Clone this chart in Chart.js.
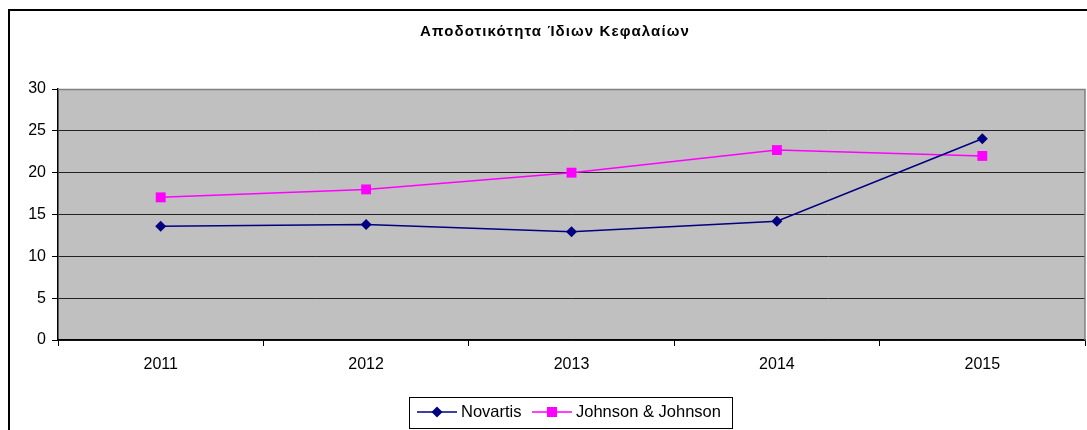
<!DOCTYPE html>
<html>
<head>
<meta charset="utf-8">
<script src="https://cdn.jsdelivr.net/npm/chart.js@4"></script>
<style>
  html, body { margin: 0; padding: 0; background: #fff; }
  #wrap { width: 1087px; height: 430px; }
</style>
</head>
<body>
<div id="wrap"><canvas id="chart" width="1087" height="430"></canvas></div>
<script>
var years = ["2011", "2012", "2013", "2014", "2015"]
var novartis = [13.6, 13.8, 12.95, 14.2, 24.05]
var johnson = [17.05, 18.0, 20.0, 22.7, 22.0]
var yTicks = [0, 5, 10, 15, 20, 25, 30]

var titleText = "Αποδοτικότητα Ίδιων Κεφαλαίων"
var fontName = "'Liberation Sans', Arial, sans-serif"

// frame, plot background, title and legend box
var decor = {
  id: 'decor',
  beforeDraw: function(chart) {
    var ctx = chart.ctx
    var a = chart.chartArea
    ctx.save()
    ctx.fillStyle = '#fff'
    ctx.fillRect(0, 0, chart.width, chart.height)
    ctx.fillStyle = '#c0c0c0'
    ctx.fillRect(a.left, a.top, a.right - a.left, a.bottom - a.top)
    ctx.restore()
  },
  afterDraw: function(chart) {
    var ctx = chart.ctx
    var a = chart.chartArea
    ctx.save()
    // plot border top/right
    ctx.strokeStyle = '#808080'
    ctx.lineWidth = 1.5
    ctx.beginPath()
    ctx.moveTo(a.left, a.top + 0.5)
    ctx.lineTo(a.right, a.top + 0.5)
    ctx.lineTo(a.right, a.bottom)
    ctx.stroke()
    // outer frame
    ctx.strokeStyle = '#000'
    ctx.lineWidth = 2
    ctx.beginPath()
    ctx.moveTo(9, chart.height)
    ctx.lineTo(9, 10)
    ctx.lineTo(chart.width, 10)
    ctx.stroke()
    // title
    ctx.fillStyle = '#000'
    ctx.font = "bold 15px " + fontName
    ctx.letterSpacing = '1.1px'
    ctx.textAlign = 'center'
    ctx.textBaseline = 'middle'
    ctx.fillText(titleText, 555, 32)
    ctx.letterSpacing = '0px'
    // legend
    ctx.strokeStyle = '#000'
    ctx.lineWidth = 1
    ctx.strokeRect(409.5, 397.5, 323, 31)
    var items = [
      {label: 'Novartis', ds: chart.data.datasets[0], x: 417},
      {label: 'Johnson & Johnson', ds: chart.data.datasets[1], x: 532}
    ]
    items.forEach(function(it) {
      var cy = 412
      ctx.strokeStyle = it.ds.borderColor
      ctx.lineWidth = 1.5
      ctx.beginPath()
      ctx.moveTo(it.x, cy)
      ctx.lineTo(it.x + 40, cy)
      ctx.stroke()
      ctx.fillStyle = it.ds.pointBackgroundColor
      if (it.ds.pointStyle === 'rect') {
        ctx.fillRect(it.x + 15, cy - 5, 10, 10)
      } else {
        ctx.beginPath()
        ctx.moveTo(it.x + 20, cy - 5.5)
        ctx.lineTo(it.x + 25.5, cy)
        ctx.lineTo(it.x + 20, cy + 5.5)
        ctx.lineTo(it.x + 14.5, cy)
        ctx.closePath()
        ctx.fill()
      }
      ctx.fillStyle = '#000'
      ctx.font = "16.5px " + fontName
      ctx.textAlign = 'left'
      ctx.fillText(it.label, it.x + 44, cy)
    })
    ctx.restore()
  }
}

new Chart(document.getElementById('chart'), {
  type: 'line',
  data: {
    labels: years,
    datasets: [
      {
        label: 'Novartis',
        data: novartis,
        borderColor: '#000080',
        backgroundColor: '#000080',
        pointBackgroundColor: '#000080',
        pointBorderColor: '#000080',
        pointStyle: 'rectRot',
        pointRadius: 5.5,
        pointBorderWidth: 0,
        borderWidth: 1.5,
        tension: 0
      },
      {
        label: 'Johnson & Johnson',
        data: johnson,
        borderColor: '#ff00ff',
        backgroundColor: '#ff00ff',
        pointBackgroundColor: '#ff00ff',
        pointBorderColor: '#ff00ff',
        pointStyle: 'rect',
        pointRadius: 7,
        pointBorderWidth: 0,
        borderWidth: 1.5,
        tension: 0
      }
    ]
  },
  options: {
    responsive: false,
    animation: false,
    layout: { autoPadding: false, padding: { top: 89, left: 0, right: 2, bottom: 0 } },
    plugins: {
      legend: { display: false },
      title: { display: false },
      tooltip: { enabled: false }
    },
    scales: {
      x: {
        offset: true,
        afterFit: function(s) { s.height = 90 },
        grid: { offset: true, drawOnChartArea: false, drawTicks: true, tickLength: 6, color: '#000' },
        border: { color: '#000', width: 1.5 },
        ticks: { color: '#000', font: { family: fontName, size: 16 }, padding: 9, maxRotation: 0 }
      },
      y: {
        min: 0,
        max: 30,
        afterFit: function(s) { s.width = 58 },
        afterBuildTicks: function(s) { s.ticks = yTicks.map(function(v) { return {value: v} }) },
        grid: {
          drawTicks: true,
          tickLength: 6,
          color: function(c) { return c.tick && c.tick.value === 30 ? 'rgba(0,0,0,0)' : '#222' },
          tickColor: '#000',
          lineWidth: 1
        },
        border: { color: '#000', width: 1.5 },
        ticks: { color: '#000', font: { family: fontName, size: 16 }, padding: 6 }
      }
    }
  },
  plugins: [decor]
})
</script>
</body>
</html>
